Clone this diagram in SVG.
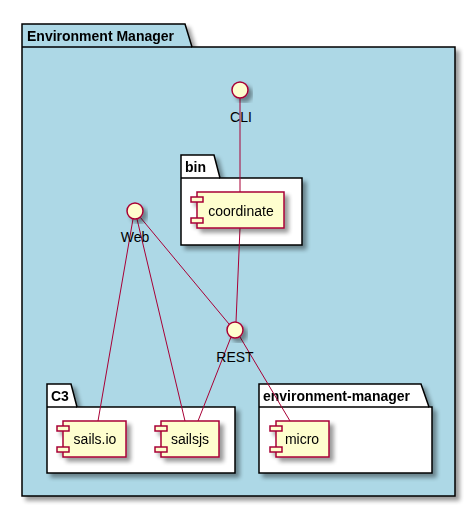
<svg xmlns="http://www.w3.org/2000/svg" width="476" height="509" viewBox="0 0 476 509">
<defs>
<filter id="sh" x="-20%" y="-20%" width="150%" height="150%">
<feGaussianBlur in="SourceAlpha" stdDeviation="2"/>
<feOffset dx="4" dy="4" result="b"/>
<feComponentTransfer><feFuncA type="linear" slope="0.4"/></feComponentTransfer>
<feMerge><feMergeNode/><feMergeNode in="SourceGraphic"/></feMerge>
</filter>
<style>
.pk{stroke:#000;stroke-width:1.5}
.pt{font-family:"Liberation Sans",Arial,sans-serif;font-weight:bold;font-size:14px;fill:#000}
.cp{fill:#FEFECE;stroke:#A80036;stroke-width:1.5}
.lb{font-family:"Liberation Sans",Arial,sans-serif;font-size:14px;fill:#000;text-anchor:middle}
.ln{stroke:#A80036;stroke-width:1;fill:none}
</style>
</defs>
<rect width="476" height="509" fill="#fff"/>
<g id="env-manager" filter="url(#sh)">
<path class="pk" fill="#ADD8E6" d="M22,24 L185,24 L192,47 L455,47 L455,496 L22,496 Z"/>
<line class="pk" x1="22" y1="47" x2="192" y2="47"/>
<text class="pt" x="27" y="41">Environment Manager</text>
</g>
<g id="bin" filter="url(#sh)">
<path class="pk" fill="#fff" d="M181,155 L214,155 L220,178 L302,178 L302,245 L181,245 Z"/>
<line class="pk" x1="181" y1="178" x2="220" y2="178"/>
<text class="pt" x="185" y="172">bin</text>
</g>
<g id="c3" filter="url(#sh)">
<path class="pk" fill="#fff" d="M47,384 L71,384 L77,407 L235,407 L235,473 L47,473 Z"/>
<line class="pk" x1="47" y1="407" x2="77" y2="407"/>
<text class="pt" x="51" y="401">C3</text>
</g>
<g id="environment-manager" filter="url(#sh)">
<path class="pk" fill="#fff" d="M259,384 L421,384 L429,407 L432,407 L432,473 L259,473 Z"/>
<line class="pk" x1="259" y1="407" x2="429" y2="407"/>
<text class="pt" x="263" y="401">environment-manager</text>
</g>
<g id="connectors">
<line class="ln" x1="240" y1="98" x2="240" y2="192"/>
<line class="ln" x1="240" y1="228" x2="236" y2="322"/>
<line class="ln" x1="140" y1="217" x2="229" y2="324"/>
<line class="ln" x1="133" y1="219" x2="98" y2="421"/>
<line class="ln" x1="137" y1="219" x2="185" y2="421"/>
<line class="ln" x1="231" y1="337" x2="198" y2="421"/>
<line class="ln" x1="240" y1="337" x2="290" y2="421"/>
</g>
<g id="CLI">
<circle class="cp" cx="240" cy="90" r="8" filter="url(#sh)"/>
<text class="lb" x="241" y="122">CLI</text>
</g>
<g id="Web">
<circle class="cp" cx="135" cy="211" r="8" filter="url(#sh)"/>
<text class="lb" x="135" y="242">Web</text>
</g>
<g id="REST">
<circle class="cp" cx="235" cy="330" r="8" filter="url(#sh)"/>
<text class="lb" x="235" y="362">REST</text>
</g>
<g id="coordinate" filter="url(#sh)">
<rect class="cp" x="197" y="192" width="87" height="36"/>
<rect class="cp" x="191" y="197" width="12" height="5"/>
<rect class="cp" x="191" y="218" width="12" height="5"/>
<text class="lb" x="241" y="216">coordinate</text>
</g>
<g id="sails.io" filter="url(#sh)">
<rect class="cp" x="63" y="421" width="63" height="36"/>
<rect class="cp" x="57" y="426" width="12" height="5"/>
<rect class="cp" x="57" y="447" width="12" height="5"/>
<text class="lb" x="95" y="444">sails.io</text>
</g>
<g id="sailsjs" filter="url(#sh)">
<rect class="cp" x="161" y="421" width="58" height="36"/>
<rect class="cp" x="155" y="426" width="12" height="5"/>
<rect class="cp" x="155" y="447" width="12" height="5"/>
<text class="lb" x="190" y="444">sailsjs</text>
</g>
<g id="micro" filter="url(#sh)">
<rect class="cp" x="276" y="421" width="53" height="36"/>
<rect class="cp" x="270" y="426" width="12" height="5"/>
<rect class="cp" x="270" y="447" width="12" height="5"/>
<text class="lb" x="302" y="444">micro</text>
</g>
</svg>
